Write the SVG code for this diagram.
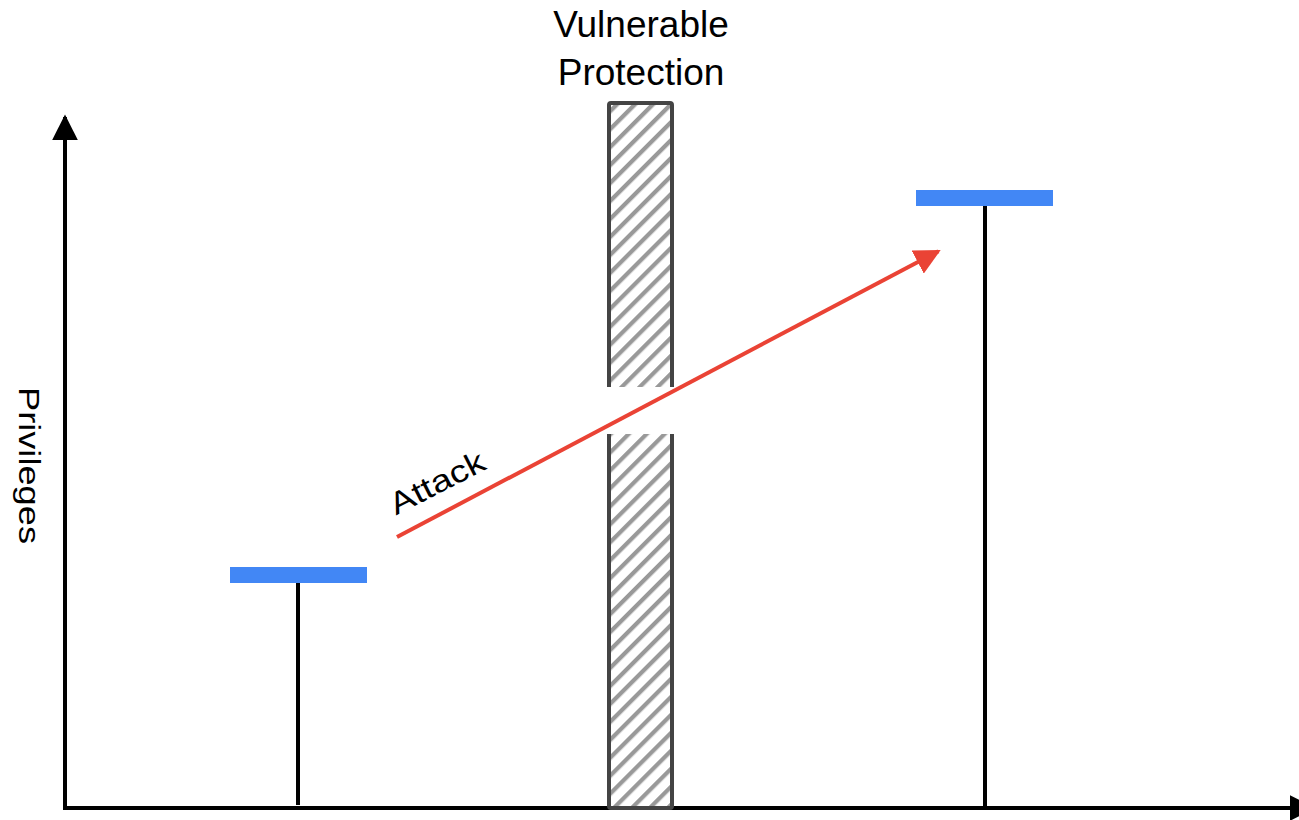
<svg xmlns="http://www.w3.org/2000/svg" width="1299" height="820" viewBox="0 0 1299 820">
  <style>
    .label { font-family: "Liberation Sans", Arial, sans-serif; font-size: 37px; fill: #000; }
    .axis { stroke: #000; stroke-width: 4; fill: none; }
    .stem { stroke: #000; stroke-width: 4; }
    .level { fill: #4287f5; }
    .wall { fill: url(#hatch); stroke: #444; stroke-width: 4; }
  </style>
  <defs>
    <pattern id="hatch" patternUnits="userSpaceOnUse" width="12.7" height="12.7" patternTransform="rotate(45)">
      <rect width="12.7" height="12.7" fill="#fff"/>
      <line x1="0" y1="0" x2="0" y2="12.7" stroke="#999" stroke-width="8.5"/>
    </pattern>
    <marker id="blackHead" viewBox="0 0 10 10" refX="9" refY="5" markerWidth="6.5" markerHeight="6.5" markerUnits="strokeWidth" orient="auto">
      <path d="M0,0 L10,5 L0,10 Z" fill="#000"/>
    </marker>
    <marker id="redHead" viewBox="0 0 10 10" refX="9" refY="5" markerWidth="6.5" markerHeight="6.5" markerUnits="strokeWidth" orient="auto">
      <path d="M0,0 L10,5 L0,10 Z" fill="#ea4335"/>
    </marker>
  </defs>

  <rect width="1299" height="820" fill="#fff"/>

  <g id="connectors">
    <line class="axis" x1="65" y1="810" x2="65" y2="117" marker-end="url(#blackHead)"/>
    <line class="axis" x1="63" y1="808" x2="1313" y2="808" marker-end="url(#blackHead)"/>
  </g>

  <g id="protection">
    <rect class="wall" x="609" y="103" width="63" height="705" rx="2"/>
    <!-- opening in the wall where the attack passes -->
    <rect x="600" y="387" width="82" height="47" fill="#fff"/>
  </g>

  <g id="low-level">
    <line class="stem" x1="298" y1="581" x2="298" y2="805"/>
    <rect class="level" x="230" y="567" width="137" height="16"/>
  </g>

  <g id="high-level">
    <line class="stem" x1="985" y1="204" x2="985" y2="808"/>
    <rect class="level" x="916" y="190" width="137" height="16"/>
  </g>

  <g id="attack">
    <line x1="397" y1="537" x2="938.4" y2="251.2" stroke="#ea4335" stroke-width="4" marker-end="url(#redHead)"/>
    <text class="label" x="0" y="0" text-anchor="middle" textLength="103" lengthAdjust="spacingAndGlyphs" transform="translate(442 492) rotate(-27)" style="font-size:31px">Attack</text>
  </g>

  <g id="labels">
    <text class="label" x="641" y="37" text-anchor="middle">Vulnerable</text>
    <text class="label" x="641" y="85" text-anchor="middle">Protection</text>
    <text class="label" x="0" y="0" text-anchor="middle" textLength="157" lengthAdjust="spacingAndGlyphs" transform="translate(19 465.5) rotate(90)" style="font-size:30px">Privileges</text>
  </g>
</svg>
